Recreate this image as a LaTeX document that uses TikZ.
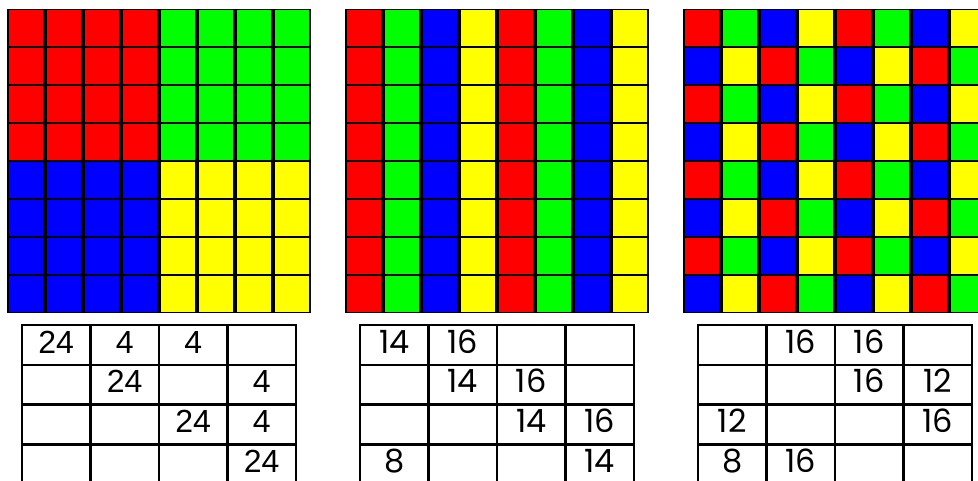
\documentclass[tikz,border=0pt]{standalone}
\usepackage{fontspec}
\newfontfamily\fontA{Liberation Sans}
\newfontfamily\fontB{Poppins}
\definecolor{c0}{RGB}{255,0,0}
\definecolor{c1}{RGB}{0,255,0}
\definecolor{c2}{RGB}{0,0,255}
\definecolor{c3}{RGB}{255,255,0}
\begin{document}
\begin{tikzpicture}[x=1pt,y=-1pt,
  tabline/.style={line width=2.6pt, line cap=rect},
  numA/.style={anchor=base, inner sep=0pt, font=\fontA\fontsize{32}{32}\selectfont},
  numB/.style={anchor=base, inner sep=0pt, font=\fontB\fontsize{32}{32}\selectfont}]
\useasboundingbox (0,0) rectangle (978,481);
\clip (0,0) rectangle (978,481);
\fill[white] (0,0) rectangle (978,481);
% grid 1
\fill[black] (7,9) rectangle ++(304,304);
\foreach \i in {0,...,7}{\foreach \j in {0,...,7}{
  \pgfmathtruncatemacro\k{(\i>3)+2*(\j>3)}
  \fill[c\k] (7+38*\i+2.35, 9+38*\j+0.8) rectangle (7+38*\i+38-2.35, 9+38*\j+38-0.8);
}}
% grid 2
\fill[black] (345,9) rectangle ++(304,304);
\foreach \i in {0,...,7}{\foreach \j in {0,...,7}{
  \pgfmathtruncatemacro\k{mod(\i,4)}
  \fill[c\k] (345+38*\i+2.35, 9+38*\j+0.8) rectangle (345+38*\i+38-2.35, 9+38*\j+38-0.8);
}}
% grid 3
\fill[black] (683,9) rectangle ++(304,304);
\foreach \i in {0,...,7}{\foreach \j in {0,...,7}{
  \pgfmathtruncatemacro\k{mod(\i+2*mod(\j,2),4)}
  \fill[c\k] (683+38*\i+2.35, 9+38*\j+0.8) rectangle (683+38*\i+38-2.35, 9+38*\j+38-0.8);
}}
% tables
\foreach \X in {22,360,698}{
  \draw[tabline] (\X,325) rectangle (\X+274,484.4);
  \foreach \c in {1,2,3} \draw[tabline] (\X+68.5*\c,325) -- (\X+68.5*\c,484.4);
  \foreach \r in {1,2,3} \draw[tabline] (\X,325+39.8*\r) -- (\X+274,325+39.8*\r);
}
\foreach \r/\c/\v in {1/1/24,1/2/4,1/3/4,2/2/24,2/4/4,3/3/24,3/4/4,4/4/24}
  \node[numA] (ta-\r-\c) at (22+68.5*\c-34.25, 325+39.8*\r-39.8+28) {\v};
\foreach \r/\c/\v in {1/1/14,1/2/16,2/2/14,2/3/16,3/3/14,3/4/16,4/1/8,4/4/14}
  \node[numB] (tb-\r-\c) at (360+68.5*\c-34.25, 325+39.8*\r-39.8+28) {\v};
\foreach \r/\c/\v in {1/2/16,1/3/16,2/3/16,2/4/12,3/1/12,3/4/16,4/1/8,4/2/16}
  \node[numB] (tc-\r-\c) at (698+68.5*\c-34.25, 325+39.8*\r-39.8+28) {\v};
\end{tikzpicture}
\end{document}
